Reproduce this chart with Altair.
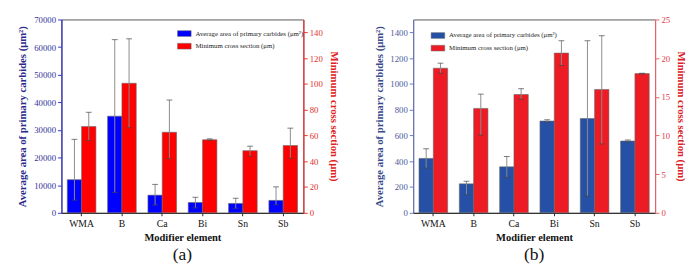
import altair as alt
import pandas as pd

cats = ["WMA", "B", "Ca", "Bi", "Sn", "Sb"]
S_AREA = "Average area of primary carbides (μm²)"
S_MIN = "Minimum cross section (μm)"

# panel (a)
a_area = [12000, 35000, 6400, 3750, 3400, 4500]
a_area_hi = [26600, 62700, 10300, 5630, 5280, 9400]
a_area_lo = [4600, 7400, 2800, 1760, 1640, 2930]
a_min = [67, 100.5, 62.5, 56.7, 48.2, 52.2]
a_min_hi = [78, 135, 87.5, 57.4, 51.7, 65.7]
a_min_lo = [56, 66, 42, 56.2, 43.9, 42.4]

# panel (b)
b_area = [422, 225, 357, 712, 732, 557]
b_area_hi = [497, 245, 437, 722, 1335, 565]
b_area_lo = [347, 140, 275, 702, 130, 549]
b_min = [18.7, 13.5, 15.3, 20.65, 15.95, 18.0]
b_min_hi = [19.35, 15.35, 16.05, 22.25, 22.9, 18.05]
b_min_lo = [18.05, 10.05, 14.7, 19.05, 8.9, 17.95]

FONT = "'Times New Roman', 'Liberation Serif', serif"
W, H = 249, 199


def frame(series, vals, lo, hi):
    return pd.DataFrame({"cat": cats, "series": series, "v": vals, "lo": lo, "hi": hi})


def side(df, ydom, axis, colors, legend):
    x = alt.X("cat:N", sort=cats, title="Modifier element",
              scale=alt.Scale(paddingInner=0.29, paddingOuter=0.145),
              axis=alt.Axis(labelAngle=0, labelFont=FONT, labelFontSize=10, labelColor="#111",
                            titleFont=FONT, titleFontSize=10.8, titleFontWeight="bold", titleColor="#111",
                            domainColor="#222", tickColor="#222", tickSize=3, titlePadding=3,
                            labelPadding=3))
    xo = alt.XOffset("series:N", sort=[S_AREA, S_MIN], scale=alt.Scale(domain=[S_AREA, S_MIN], paddingInner=0, paddingOuter=0))
    ysc = alt.Scale(domain=ydom, nice=False, zero=True)
    bar = alt.Chart(df).mark_bar(stroke="#666", strokeWidth=0.6).encode(
        x=x, xOffset=xo,
        y=alt.Y("v:Q", scale=ysc, axis=axis),
        color=alt.Color("series:N", scale=alt.Scale(domain=[S_AREA, S_MIN], range=colors), legend=legend),
    )
    rule = alt.Chart(df).mark_rule(color="#8a8a8a", strokeWidth=1).encode(
        x=x, xOffset=xo, y=alt.Y("lo:Q", scale=ysc, axis=axis), y2="hi:Q")
    cap_hi = alt.Chart(df).mark_tick(color="#444", size=6, thickness=1).encode(
        x=x, xOffset=xo, y=alt.Y("hi:Q", scale=ysc, axis=axis))
    cap_lo = alt.Chart(df).mark_tick(color="#444", size=6, thickness=1).encode(
        x=x, xOffset=xo, y=alt.Y("lo:Q", scale=ysc, axis=axis))
    return alt.layer(bar, rule, cap_hi, cap_lo)


def yaxis(title, orient, values, dcol, lcol, tcol, tpad):
    return alt.Axis(title=title, orient=orient, values=values, grid=False, format="d",
                    domainColor=dcol, tickColor=dcol, labelColor=lcol, titleColor=tcol,
                    labelFont=FONT, labelFontSize=9, titleFont=FONT, titleFontSize=11,
                    titleFontWeight="bold", tickSize=4, labelPadding=2, titlePadding=tpad,
                    domainWidth=1.2)


def panel(area, alo, ahi, mn, mlo, mhi, ldom, lvals, rdom, rvals, colors, lcols, rcols, lx, ly, tag):
    legend = alt.Legend(title=None, orient="none", legendX=lx, legendY=ly,
                        symbolType="M-1,-0.42H1V0.42H-1Z", symbolSize=196,
                        symbolStrokeColor="#666", symbolStrokeWidth=0.5,
                        labelFont=FONT, labelFontSize=7, labelColor="#222",
                        rowPadding=1, padding=0, symbolOffset=0, labelOffset=4)
    left = side(frame(S_AREA, area, alo, ahi), ldom,
                yaxis("Average area of primary carbides (μm²)", "left", lvals, *lcols, 6),
                colors, legend)
    right = side(frame(S_MIN, mn, mlo, mhi), rdom,
                 yaxis("Minimum cross section (μm)", "right", rvals, *rcols, 6),
                 colors, legend)
    return alt.layer(left, right).resolve_scale(y="independent").properties(
        width=W, height=H,
        title=alt.TitleParams(tag, orient="bottom", font=FONT, fontSize=18, fontWeight="normal",
                              color="#111", frame="group", anchor="middle", offset=5),
    )


pa = panel(a_area, a_area_lo, a_area_hi, a_min, a_min_lo, a_min_hi,
           [0, 70000], list(range(0, 70001, 10000)), [0, 150], list(range(0, 141, 20)),
           ["#0000FF", "#FF0000"],
           ("#3333CC", "#333399", "#2A2A8A"), ("#F03030", "#E03030", "#E02020"),
           119, 7, "(a)")
pb = panel(b_area, b_area_lo, b_area_hi, b_min, b_min_lo, b_min_hi,
           [0, 1500], list(range(0, 1401, 200)), [0, 25], list(range(0, 26, 5)),
           ["#2550A5", "#ED1C24"],
           ("#6A78B8", "#4A5A9A", "#3A4A8A"), ("#E8606A", "#E04048", "#D82028"),
           18, 9, "(b)")

chart = alt.hconcat(pa, pb, spacing=34).resolve_scale(color="independent").resolve_legend(
    color="independent").properties(
    padding={"left": 9, "top": 3, "right": 5, "bottom": 0}
).configure_view(stroke="#555", strokeWidth=1)

chart.save("out.html", embed_options={"renderer": "svg", "actions": False})
